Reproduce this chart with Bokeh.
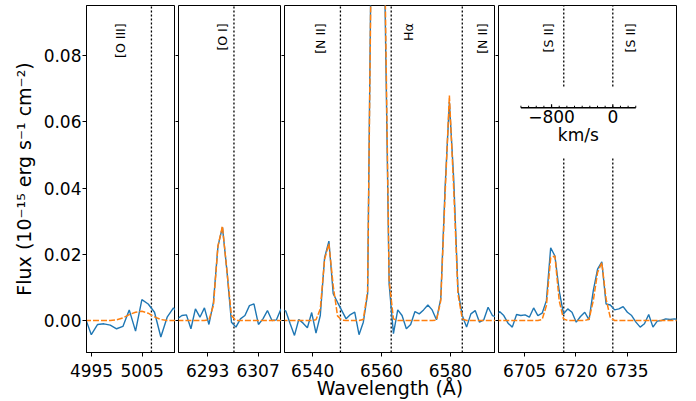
import math
from bokeh.plotting import figure
from bokeh.layouts import row
from bokeh.models import Range1d, FixedTicker, NumeralTickFormatter, CustomJSTickFormatter
from bokeh.core.properties import value
from bokeh.embed import file_html
from bokeh.resources import INLINE

# ---------------- data ----------------
# Panel 1: [O III]
oiii_wl = [4993.70, 4994.95, 4996.20, 4997.45, 4998.70, 4999.95, 5001.20, 5002.45,
           5003.70, 5004.95, 5006.20, 5007.45, 5008.70, 5009.95, 5011.20, 5012.45]
oiii_obs = [0.0010, -0.0043, -0.0012, -0.0010, -0.0014, -0.0025, -0.0018, 0.0032,
            -0.0032, 0.0063, 0.0050, 0.0025, -0.0050, 0.0010, 0.0038, 0.0015]
oiii_mod = [0.0, 0.0, 0.0, 0.0, 0.0, 0.0002, 0.0008, 0.0018,
            0.0025, 0.0028, 0.0022, 0.0011, 0.0003, 0.0, 0.0, 0.0]

# Panel 2: [O I]
oi_wl = [6284.60, 6285.85, 6287.10, 6288.35, 6289.60, 6290.85, 6292.10, 6293.35, 6294.60,
         6295.85, 6297.10, 6298.35, 6299.60, 6300.85, 6302.10, 6303.35, 6304.60, 6305.85,
         6307.10, 6308.35, 6309.60, 6310.85, 6312.10, 6313.35, 6314.60]
oi_obs = [0.0005, 0.0015, 0.0017, -0.0025, 0.0035, 0.0010, 0.0038, -0.0012, 0.0055,
          0.0224, 0.0282, 0.0150, -0.0005, -0.0020, 0.0005, 0.0015, 0.0045, 0.0050,
          -0.0012, 0.0005, 0.0030, 0.0000, 0.0002, 0.0035, 0.0010]
oi_mod = [0.0, 0.0, 0.0, 0.0, 0.0, 0.0, 0.0, 0.0002, 0.0045,
          0.0225, 0.0285, 0.0150, 0.0015, 0.0, 0.0, 0.0, 0.0, 0.0,
          0.0, 0.0, 0.0, 0.0, 0.0, 0.0, 0.0]

# Panel 3: [N II] + H-alpha
ha_wl = [6530.95, 6532.20, 6533.45, 6534.70, 6535.95, 6537.20, 6538.45, 6539.70, 6540.95,
         6542.20, 6543.45, 6544.70, 6545.95, 6547.20, 6548.45, 6549.70, 6550.95, 6552.20,
         6553.45, 6554.70, 6555.95, 6557.20, 6558.45, 6559.70, 6560.95, 6562.20, 6563.45,
         6564.70, 6565.95, 6567.20, 6568.45, 6569.70, 6570.95, 6572.20, 6573.45, 6574.70,
         6575.95, 6577.20, 6578.45, 6579.70, 6580.95, 6582.20, 6583.45, 6584.70, 6585.95,
         6587.20, 6588.45, 6589.70, 6590.95, 6592.20, 6593.45]
ha_obs = [0.0035, 0.0028, -0.0010, -0.0045, 0.0003, -0.0008, -0.0022, 0.0024, -0.0038,
          0.0015, 0.0190, 0.0240, 0.0081, 0.0055, 0.0030, 0.0005, 0.0018, 0.0025,
          -0.0043, -0.0005, 0.0081, 0.1360, 0.3400, 0.3100, 0.1000, 0.0110, -0.0040,
          0.0032, 0.0015, -0.0025, -0.0012, 0.0027, 0.0020, 0.0032, 0.0047, 0.0032,
          0.0002, 0.0066, 0.0400, 0.0660, 0.0430, 0.0091, 0.0015, -0.0020, 0.0020,
          0.0030, -0.0005, 0.0002, 0.0040, 0.0015, 0.0010]
ha_mod = [0.0, 0.0, 0.0, 0.0, 0.0, 0.0, 0.0, 0.0, 0.0002,
          0.0035, 0.0185, 0.0232, 0.0105, 0.0014, 0.0001, 0.0, 0.0, 0.0,
          0.0, 0.0003, 0.0090, 0.1300, 0.3350, 0.3150, 0.1070, 0.0120, 0.0005,
          0.0, 0.0, 0.0, 0.0, 0.0, 0.0, 0.0, 0.0, 0.0,
          0.0001, 0.0060, 0.0380, 0.0680, 0.0400, 0.0080, 0.0005, 0.0, 0.0,
          0.0, 0.0, 0.0, 0.0, 0.0, 0.0]

# Panel 4: [S II]
sii_wl = [6696.35, 6697.60, 6698.85, 6700.10, 6701.35, 6702.60, 6703.85, 6705.10, 6706.35,
          6707.60, 6708.85, 6710.10, 6711.35, 6712.60, 6713.85, 6715.10, 6716.35, 6717.60,
          6718.85, 6720.10, 6721.35, 6722.60, 6723.85, 6725.10, 6726.35, 6727.60, 6728.85,
          6730.10, 6731.35, 6732.60, 6733.85, 6735.10, 6736.35, 6737.60, 6738.85, 6740.10,
          6741.35, 6742.60, 6743.85, 6745.10, 6746.35, 6747.60, 6748.85, 6750.10]
sii_obs = [0.0010, 0.0027, 0.0015, -0.0008, -0.0020, 0.0018, 0.0015, 0.0017, 0.0010,
           0.0038, 0.0015, 0.0022, 0.0060, 0.0220, 0.0195, 0.0090, 0.0020, 0.0035,
           0.0025, -0.0005, 0.0012, 0.0025, 0.0002, 0.0090, 0.0155, 0.0177, 0.0050,
           0.0047, 0.0032, 0.0035, 0.0042, 0.0025, 0.0015, -0.0005, -0.0020, -0.0010,
           0.0018, -0.0020, -0.0002, 0.0000, 0.0005, 0.0003, 0.0005, 0.0003]
sii_mod = [0.0, 0.0, 0.0, 0.0, 0.0, 0.0, 0.0, 0.0, 0.0,
           0.0, 0.0, 0.0003, 0.0045, 0.0190, 0.0195, 0.0060, 0.0005, 0.0,
           0.0, 0.0, 0.0, 0.0, 0.0004, 0.0060, 0.0145, 0.0175, 0.0065,
           0.0008, 0.0, 0.0, 0.0, 0.0, 0.0, 0.0, 0.0, 0.0,
           0.0, 0.0, 0.0, 0.0, 0.0, 0.0, 0.0, 0.0]

# axes / annotations
ytick_values = [0.0, 0.02, 0.04, 0.06, 0.08]
oiii_xticks = [4995, 5005]
oi_xticks = [6293, 6307]
ha_xticks = [6540, 6560, 6580]
sii_xticks = [6705, 6720, 6735]

oiii_lines = [5006.84]
oi_lines = [6300.30]
ha_lines = [6548.05, 6562.80, 6583.45]
sii_lines = [6716.44, 6730.82]

oiii_label_x = [5000.7]
oiii_label_text = ["[O III]"]
oi_label_x = [6297.0]
oi_label_text = ["[O I]"]
ha_label_x = [6542.3, 6567.9, 6589.3]
ha_label_text = ["[N II]", "Hα", "[N II]"]
sii_label_x = [6712.1, 6735.9]
sii_label_text = ["[S II]", "[S II]"]

vel_major = [-800, 0]
vel_major_labels = ["−800", "0"]
vel_minor = [-1200, -1100, -1000, -900, -800, -700, -600, -500, -400, -300,
             -200, -100, 0, 100, 200, 300]
vel_ref = 6730.82
C_KMS = 299792.458

# ---------------- styling ----------------
FONT = "DejaVu Sans"
BLUE = "#1f77b4"
ORANGE = "#ff7f0e"
Y0, Y1 = -0.00967, 0.0952
FRAME_H = 347
TOP = 5
PX = (Y1 - Y0) / FRAME_H  # data units per pixel (vertical)
LABEL_Y = 0.0898
DOT = "2 2"
DASH = "6 2"


def make_panel(xr, frame_w, left, right, ticks, wl, obs, mod, lines, lab_x, lab_text,
               first=False, gap=None, xlabel=None):
    p = figure(frame_width=frame_w, frame_height=FRAME_H,
               x_range=Range1d(*xr), y_range=Range1d(Y0, Y1),
               output_backend="svg", toolbar_location=None,
               min_border_left=left, min_border_right=right,
               min_border_top=TOP, min_border_bottom=36)
    p.grid.visible = False
    p.outline_line_color = "black"
    p.outline_line_alpha = 1.0
    p.outline_line_width = 1
    p.background_fill_color = "white"
    p.border_fill_color = "white"

    ax = p.xaxis[0]
    ax.ticker = FixedTicker(ticks=ticks)
    ax.major_label_text_font = FONT
    ax.major_label_text_font_size = "17px"
    ax.major_label_text_color = "black"
    ax.major_tick_in = 0
    ax.major_tick_out = 4
    ax.major_label_standoff = 7
    ax.minor_tick_line_color = None
    ax.axis_line_color = "black"
    ax.major_tick_line_color = "black"
    if xlabel is not None:
        ax.axis_label = xlabel
        ax.axis_label_text_font = FONT
        ax.axis_label_text_font_size = "19px"
        ax.axis_label_text_font_style = "normal"
        ax.axis_label_text_color = "black"
        ax.axis_label_standoff = -3

    ay = p.yaxis[0]
    ay.ticker = FixedTicker(ticks=ytick_values)
    ay.major_tick_in = 0
    ay.minor_tick_line_color = None
    ay.major_tick_line_color = "black"
    if first:
        ay.formatter = NumeralTickFormatter(format="0.00")
        ay.major_label_text_font = FONT
        ay.major_label_text_font_size = "17px"
        ay.major_label_text_color = "black"
        ay.major_tick_out = 4
        ay.major_label_standoff = 1
        ay.axis_line_color = "black"
        ay.axis_label = "Flux (10⁻¹⁵ erg s⁻¹ cm⁻²)"
        ay.axis_label_text_font = FONT
        ay.axis_label_text_font_size = "19px"
        ay.axis_label_text_font_style = "normal"
        ay.axis_label_text_color = "black"
        ay.axis_label_standoff = 6
    else:
        # shared y axis: ticks only, no labels
        ay.formatter = CustomJSTickFormatter(code="return ''")
        ay.major_tick_out = 3
        ay.major_label_standoff = 0
        ay.axis_line_color = None

    # rest-frame line markers (dotted)
    if gap is None:
        p.segment(x0=lines, y0=[Y0] * len(lines), x1=lines, y1=[Y1] * len(lines),
                  line_color="black", line_width=1.3, line_dash=DOT)
    else:
        g0, g1 = gap
        p.segment(x0=lines, y0=[Y0] * len(lines), x1=lines, y1=[g0] * len(lines),
                  line_color="black", line_width=1.3, line_dash=DOT)
        p.segment(x0=lines, y0=[g1] * len(lines), x1=lines, y1=[Y1] * len(lines),
                  line_color="black", line_width=1.3, line_dash=DOT)

    p.line(wl, obs, line_color=BLUE, line_width=1.4)
    p.line(wl, mod, line_color=ORANGE, line_width=1.5, line_dash=DASH)

    p.text(x=lab_x, y=[LABEL_Y] * len(lab_x), text=lab_text, angle=math.pi / 2,
           text_align="right", text_baseline="middle",
           text_font=value(FONT), text_font_size="12.5px", text_color="black")
    return p


p1 = make_panel((4994.0, 5011.6), 89, 86, 0, oiii_xticks, oiii_wl, oiii_obs, oiii_mod,
                oiii_lines, oiii_label_x, oiii_label_text, first=True)
p2 = make_panel((6284.9, 6313.5), 103, 3, 0, oi_xticks, oi_wl, oi_obs, oi_mod,
                oi_lines, oi_label_x, oi_label_text)
p3 = make_panel((6531.8, 6593.1), 211, 3, 0, ha_xticks, ha_wl, ha_obs, ha_mod,
                ha_lines, ha_label_x, ha_label_text, xlabel="Wavelength (Å)")
p4 = make_panel((6697.3, 6749.5), 178, 3, 3, sii_xticks, sii_wl, sii_obs, sii_mod,
                sii_lines, sii_label_x, sii_label_text, gap=(0.0496, 0.0707))

# velocity scale bar in the [S II] panel
bar_y = 0.0643


def v2l(v):
    return vel_ref * (1.0 + v / C_KMS)


p4.line([v2l(vel_minor[0]), v2l(vel_minor[-1])], [bar_y, bar_y],
        line_color="black", line_width=1.3)
minor_x = [v2l(v) for v in vel_minor]
p4.segment(x0=minor_x, y0=[bar_y] * len(minor_x), x1=minor_x,
           y1=[bar_y + 2 * PX] * len(minor_x), line_color="black", line_width=1)
major_x = [v2l(v) for v in vel_major]
p4.segment(x0=major_x, y0=[bar_y] * len(major_x), x1=major_x,
           y1=[bar_y + 3.5 * PX] * len(major_x), line_color="black", line_width=1.2)
p4.text(x=major_x, y=[bar_y - 2.5 * PX] * len(major_x), text=vel_major_labels,
        text_align="center", text_baseline="top", text_font=value(FONT),
        text_font_size="17px", text_color="black")
mid_v = 0.5 * (vel_minor[0] + vel_minor[-1])
p4.text(x=[v2l(mid_v)], y=[bar_y - 17.5 * PX], text=["km/s"],
        text_align="center", text_baseline="top", text_font=value(FONT),
        text_font_size="17px", text_color="black")

layout = row(p1, p2, p3, p4, spacing=0)

with open("out.html", "w") as f:
    f.write(file_html(layout, INLINE))
